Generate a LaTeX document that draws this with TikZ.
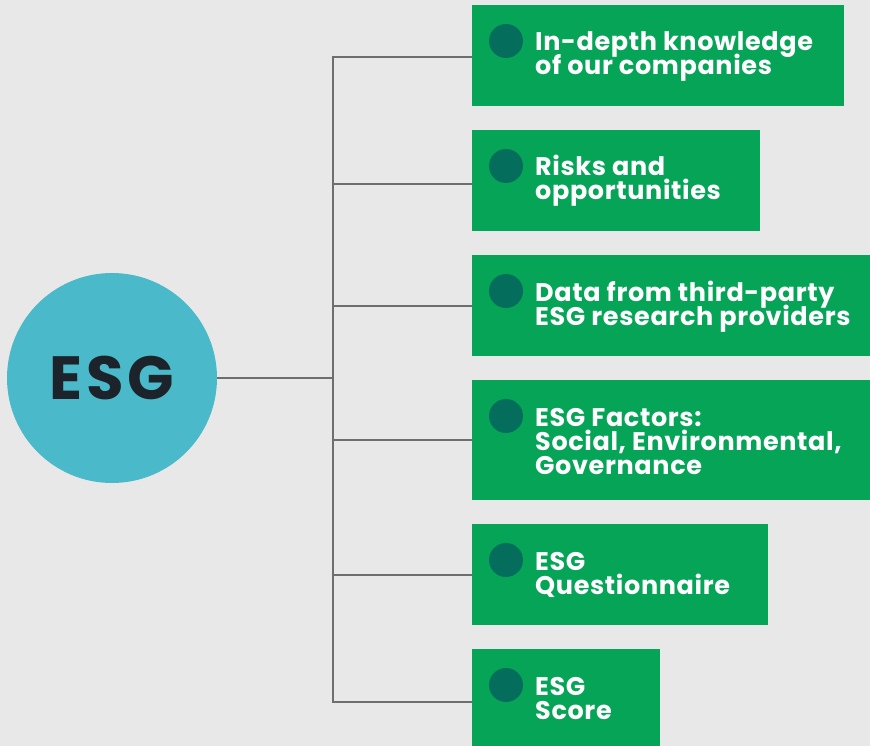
\documentclass[tikz,border=0pt]{standalone}
\usepackage{fontspec}
\setmainfont{Poppins}
\definecolor{bgc}{HTML}{E8E8E8}
\definecolor{boxgreen}{HTML}{05A457}
\definecolor{dotgreen}{HTML}{046D5C}
\definecolor{hubblue}{HTML}{4ABACA}
\definecolor{hubtext}{HTML}{1C232A}
\definecolor{linkgray}{HTML}{6E6E6E}
% stacked left-aligned lines whose reference point is the first baseline
\newcommand\itemstack[1]{\vtop{\baselineskip=24pt\lineskiplimit=-\maxdimen
  \halign{##\hfil\cr#1\cr}}}
\begin{document}
\begin{tikzpicture}[x=1pt,y=-1pt,
  itemdot/.style={circle, fill=dotgreen, inner sep=0pt, minimum size=34pt},
  itemtext/.style={anchor=base west, inner sep=0pt, text=white,
    font=\bfseries\fontsize{25.5}{24}\selectfont\addfontfeatures{LetterSpace=2.5}},
  link/.style={draw=linkgray, line width=1.2pt}]
  \fill[bgc] (0,0) rectangle (870,746);
  \useasboundingbox (0,0) rectangle (870,746);

  % central hub
  \node[circle, fill=hubblue, minimum size=210pt, inner sep=0pt,
        text=hubtext, font=\bfseries\fontsize{61}{60}\selectfont\addfontfeatures{LetterSpace=6}]
        (hub) at (112,378) {ESG};

  % item boxes: name, top edge, right edge, height, text lines
  \foreach \name/\top/\right/\ht/\txt in {
      b1/5/844/101/{In-depth knowledge\cr of our companies},
      b2/130/760/101/{Risks and\cr opportunities},
      b3/255/870/101/{Data from third-party\cr ESG research providers},
      b4/380/870/120/{ESG Factors:\cr Social, Environmental,\cr Governance},
      b5/524/768/101/{ESG\cr Questionnaire},
      b6/649/660/101/{ESG\cr Score}} {
    \fill[boxgreen] (472,\top) rectangle (\right,\top+\ht);
    \node[itemdot] (\name-dot) at (506,\top+36) {};
    \node[itemtext] (\name-text) at (535,\top+46) {\itemstack{\txt}};
  }

  % branch connectors
  \coordinate (trunk) at (333,378);
  \coordinate (l1) at (472,57);
  \coordinate (l2) at (472,184);
  \coordinate (l3) at (472,306);
  \coordinate (l4) at (472,440);
  \coordinate (l5) at (472,575);
  \coordinate (l6) at (472,702);
  \draw[link] (hub.east) -- (trunk);
  \draw[link] (l1) -| (trunk) |- (l6);
  \foreach \c in {l2,l3,l4,l5} \draw[link] (\c) -- (trunk |- \c);
\end{tikzpicture}
\end{document}
